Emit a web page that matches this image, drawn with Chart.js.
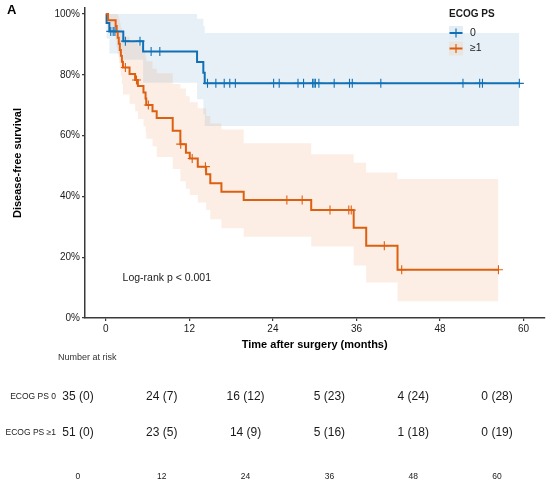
<!DOCTYPE html>
<html lang="en">
<head>
<meta charset="UTF-8">
<title>Disease-free survival by ECOG PS</title>
<script src="https://cdn.jsdelivr.net/npm/chart.js"></script>
<style>
  html, body { margin: 0; padding: 0; background: #fff; }
  #wrap { width: 550px; height: 485px; position: relative; }
  #kmBox { position: absolute; left: 0; top: 0; width: 550px; height: 352px; }
  #riskBox { position: absolute; left: 0; top: 352px; width: 550px; height: 133px; }
</style>
</head>
<body>
<div id="wrap">
  <div id="kmBox"><canvas id="kmChart"></canvas></div>
  <div id="riskBox"><canvas id="riskChart"></canvas></div>
</div>
<script>
// ---- data ----
const timeTicks = [0, 12, 24, 36, 48, 60];
const survTicks = [0, 0.2, 0.4, 0.6, 0.8, 1.0];
const groupLabels = ['0', '≥1'];
const riskRows = ['ECOG PS 0', 'ECOG PS ≥1'];

// ECOG PS 0
const ps0Times = [0, 0.1, 0.5, 2.5, 5.35, 13.1, 14.0, 14.2, 59.4];
const ps0Surv  = [1, 0.971, 0.943, 0.911, 0.877, 0.842, 0.807, 0.772, 0.772];
const ps0Upper = [1, 1, 1, 1, 1, 0.985, 0.96, 0.938, 0.938];
const ps0Lower = [1, 0.92, 0.87, 0.85, 0.774, 0.72, 0.67, 0.632, 0.632];
const ps0Censor = [0.7, 1.05, 1.3, 2.8, 4.9, 6.5, 7.75, 14.6, 15.8, 17.0, 17.8, 18.6,
  24.1, 24.9, 27.6, 28.4, 29.7, 29.9, 30.1, 30.6, 32.8, 35.0, 35.4, 39.5,
  51.3, 53.7, 54.1, 59.4];

// ECOG PS >=1
const ps1Times = [0, 0.3, 1.4, 1.55, 1.7, 1.85, 2.0, 2.15, 2.3, 2.45, 3.4, 4.2, 4.6, 5.4, 5.7, 5.8,
  6.7, 7.3, 9.6, 10.7, 11.5, 12.05, 13.2, 14.4, 15.0, 16.6, 19.8, 29.5, 35.6, 37.4, 41.9, 56.4];
const ps1Surv  = [1, 0.980, 0.961, 0.941, 0.922, 0.902, 0.882, 0.863, 0.843, 0.824, 0.803, 0.783, 0.763, 0.742, 0.722, 0.701,
  0.680, 0.658, 0.616, 0.572, 0.544, 0.525, 0.498, 0.473, 0.443, 0.415, 0.388, 0.355, 0.297, 0.238, 0.159, 0.159];
const ps1Upper = [1, 1, 1, 1, 0.995, 0.985, 0.97, 0.955, 0.94, 0.925, 0.915, 0.905, 0.895, 0.875, 0.86, 0.845,
  0.82, 0.805, 0.77, 0.755, 0.73, 0.71, 0.69, 0.665, 0.64, 0.62, 0.575, 0.539, 0.511, 0.479, 0.457, 0.457];
const ps1Lower = [1, 0.94, 0.915, 0.89, 0.865, 0.84, 0.815, 0.795, 0.77, 0.735, 0.705, 0.68, 0.655, 0.63, 0.61, 0.59,
  0.565, 0.53, 0.49, 0.45, 0.425, 0.405, 0.38, 0.355, 0.325, 0.295, 0.267, 0.235, 0.173, 0.117, 0.055, 0.055];
const ps1Censor = [2.8, 4.4, 6.1, 10.75, 12.4, 14.3, 26.0, 28.2, 32.2, 34.9, 35.25, 40.0, 42.5, 56.4];

// number at risk (censored)
const riskPs0 = ['35 (0)', '24 (7)', '16 (12)', '5 (23)', '4 (24)', '0 (28)'];
const riskPs1 = ['51 (0)', '23 (5)', '14 (9)', '5 (16)', '1 (18)', '0 (19)'];

// ---- styles ----
const FONT = '"Liberation Sans", Arial, Helvetica, sans-serif';
const blue = '#1170b5';
const orange = '#dd5f10';
const blueBand = 'rgba(17, 112, 181, 0.1)';
const orangeBand = 'rgba(230, 100, 20, 0.11)';
const axisColor = '#3a3a3a';
const textColor = '#1a1a1a';

function steps(times, vals) {
  return times.map((t, i) => ({ x: t, y: vals[i] }));
}
function survAt(times, surv, t) {
  let s = surv[0];
  for (let i = 0; i < times.length; i++) if (times[i] <= t) s = surv[i];
  return s;
}
function censorPoints(censor, times, surv) {
  return censor.map(t => ({ x: t, y: survAt(times, surv, t) }));
}

const bandStyle = { stepped: true, borderWidth: 0, borderColor: 'transparent', pointRadius: 0 };
const lineStyle = { stepped: true, borderWidth: 2, pointRadius: 0, fill: false };
const markStyle = { showLine: false, pointStyle: 'cross', pointRadius: 4.5, pointBorderWidth: 1.1 };

const kmDecor = {
  id: 'kmDecor',
  afterDraw(chart) {
    const { ctx, scales } = chart;
    ctx.save();
    ctx.textBaseline = 'middle';
    ctx.textAlign = 'left';
    ctx.fillStyle = '#000';
    ctx.font = 'bold 13px ' + FONT;
    ctx.fillText('A', 7, 10);

    ctx.font = '10.5px ' + FONT;
    ctx.fillStyle = textColor;
    ctx.fillText('Log-rank p < 0.001', scales.x.getPixelForValue(2.4), scales.y.getPixelForValue(0.13));

    // legend
    ctx.font = 'bold 10px ' + FONT;
    ctx.fillText('ECOG PS', 449, 14);
    const keyFill = ['#e2edf6', '#ebe5df'];
    const keyColor = [blue, orange];
    groupLabels.forEach((lab, i) => {
      const y = 33 + i * 15.5;
      ctx.fillStyle = keyFill[i];
      ctx.fillRect(449, y - 7, 14, 14);
      ctx.strokeStyle = keyColor[i];
      ctx.lineWidth = 2;
      ctx.beginPath(); ctx.moveTo(449.5, y); ctx.lineTo(462.5, y); ctx.stroke();
      ctx.lineWidth = 1.2;
      ctx.beginPath(); ctx.moveTo(456, y - 4.5); ctx.lineTo(456, y + 4.5); ctx.stroke();
      ctx.fillStyle = textColor;
      ctx.font = '10.5px ' + FONT;
      ctx.fillText(lab, 470, y);
    });
    ctx.restore();
  }
};

new Chart(document.getElementById('kmChart'), {
  type: 'line',
  data: {
    datasets: [
      Object.assign({ data: steps(ps0Times, ps0Upper), fill: '+1', backgroundColor: blueBand, order: 5 }, bandStyle),
      Object.assign({ data: steps(ps0Times, ps0Lower), fill: false, order: 5 }, bandStyle),
      Object.assign({ data: steps(ps1Times, ps1Upper), fill: '+1', backgroundColor: orangeBand, order: 4 }, bandStyle),
      Object.assign({ data: steps(ps1Times, ps1Lower), fill: false, order: 4 }, bandStyle),
      Object.assign({ label: 'ECOG PS 0', data: steps(ps0Times, ps0Surv), borderColor: blue, order: 3 }, lineStyle),
      Object.assign({ label: 'ECOG PS ≥1', data: steps(ps1Times, ps1Surv), borderColor: orange, order: 2 }, lineStyle),
      Object.assign({ data: censorPoints(ps0Censor, ps0Times, ps0Surv), borderColor: blue, pointBorderColor: blue, order: 1 }, markStyle),
      Object.assign({ data: censorPoints(ps1Censor, ps1Times, ps1Surv), borderColor: orange, pointBorderColor: orange, order: 1 }, markStyle)
    ]
  },
  options: {
    responsive: true,
    maintainAspectRatio: false,
    animation: false,
    layout: { padding: { top: 7, right: 5, left: 0, bottom: 0 } },
    plugins: { legend: { display: false }, tooltip: { enabled: false } },
    scales: {
      x: {
        type: 'linear', min: -3, max: 63,
        afterBuildTicks: s => { s.ticks = timeTicks.map(v => ({ value: v })); },
        afterFit: s => { s.height = 34; },
        ticks: { font: { family: FONT, size: 10 }, color: textColor, padding: 2 },
        grid: { drawOnChartArea: false, drawTicks: true, tickLength: 3, color: axisColor, lineWidth: 1.2 },
        border: { display: true, color: axisColor, width: 1.5 },
        title: { display: true, text: 'Time after surgery (months)', color: '#000',
          font: { family: FONT, size: 11, weight: 'bold' }, padding: { top: 0, bottom: 0 } }
      },
      y: {
        type: 'linear', min: 0, max: 1.02,
        afterBuildTicks: s => { s.ticks = survTicks.map(v => ({ value: v })); },
        afterFit: s => { s.width = 85; },
        ticks: { font: { family: FONT, size: 10 }, color: textColor, padding: 2,
          callback: v => Math.round(v * 100) + '%' },
        grid: { drawOnChartArea: false, drawTicks: true, tickLength: 3, color: axisColor, lineWidth: 1.2 },
        border: { display: true, color: axisColor, width: 1.5 },
        title: { display: true, text: 'Disease-free survival', color: '#000',
          font: { family: FONT, size: 11, weight: 'bold' }, padding: { top: 11, bottom: 0 } }
      }
    }
  },
  plugins: [kmDecor]
});

const riskDecor = {
  id: 'riskDecor',
  afterDraw(chart) {
    const { ctx, scales } = chart;
    ctx.save();
    ctx.textBaseline = 'middle';
    ctx.fillStyle = '#333';
    ctx.textAlign = 'left';
    ctx.font = '9px ' + FONT;
    ctx.fillText('Number at risk', 58, 6);
    ctx.textAlign = 'center';
    ctx.fillStyle = textColor;
    ctx.font = '12px ' + FONT;
    [riskPs0, riskPs1].forEach((row, r) => {
      const y = scales.y.getPixelForValue(r);
      row.forEach((txt, i) => {
        ctx.fillText(txt, scales.x.getPixelForValue(timeTicks[i]), y);
      });
    });
    ctx.restore();
  }
};

new Chart(document.getElementById('riskChart'), {
  type: 'line',
  data: { datasets: [] },
  options: {
    responsive: true,
    maintainAspectRatio: false,
    animation: false,
    layout: { padding: { top: 27, right: 32, left: 0, bottom: 0 } },
    plugins: { legend: { display: false }, tooltip: { enabled: false } },
    scales: {
      x: {
        type: 'linear', min: -3, max: 63,
        afterBuildTicks: s => { s.ticks = timeTicks.map(v => ({ value: v })); },
        afterFit: s => { s.height = 34; },
        ticks: { font: { family: FONT, size: 8.5 }, color: textColor, padding: 21 },
        grid: { display: false, drawTicks: false },
        border: { display: false }
      },
      y: {
        type: 'category', labels: riskRows, offset: true,
        afterFit: s => { s.width = 57; },
        ticks: { font: { family: FONT, size: 8.5 }, color: textColor, padding: 1 },
        grid: { display: false, drawTicks: false },
        border: { display: false }
      }
    }
  },
  plugins: [riskDecor]
});
</script>
</body>
</html>
